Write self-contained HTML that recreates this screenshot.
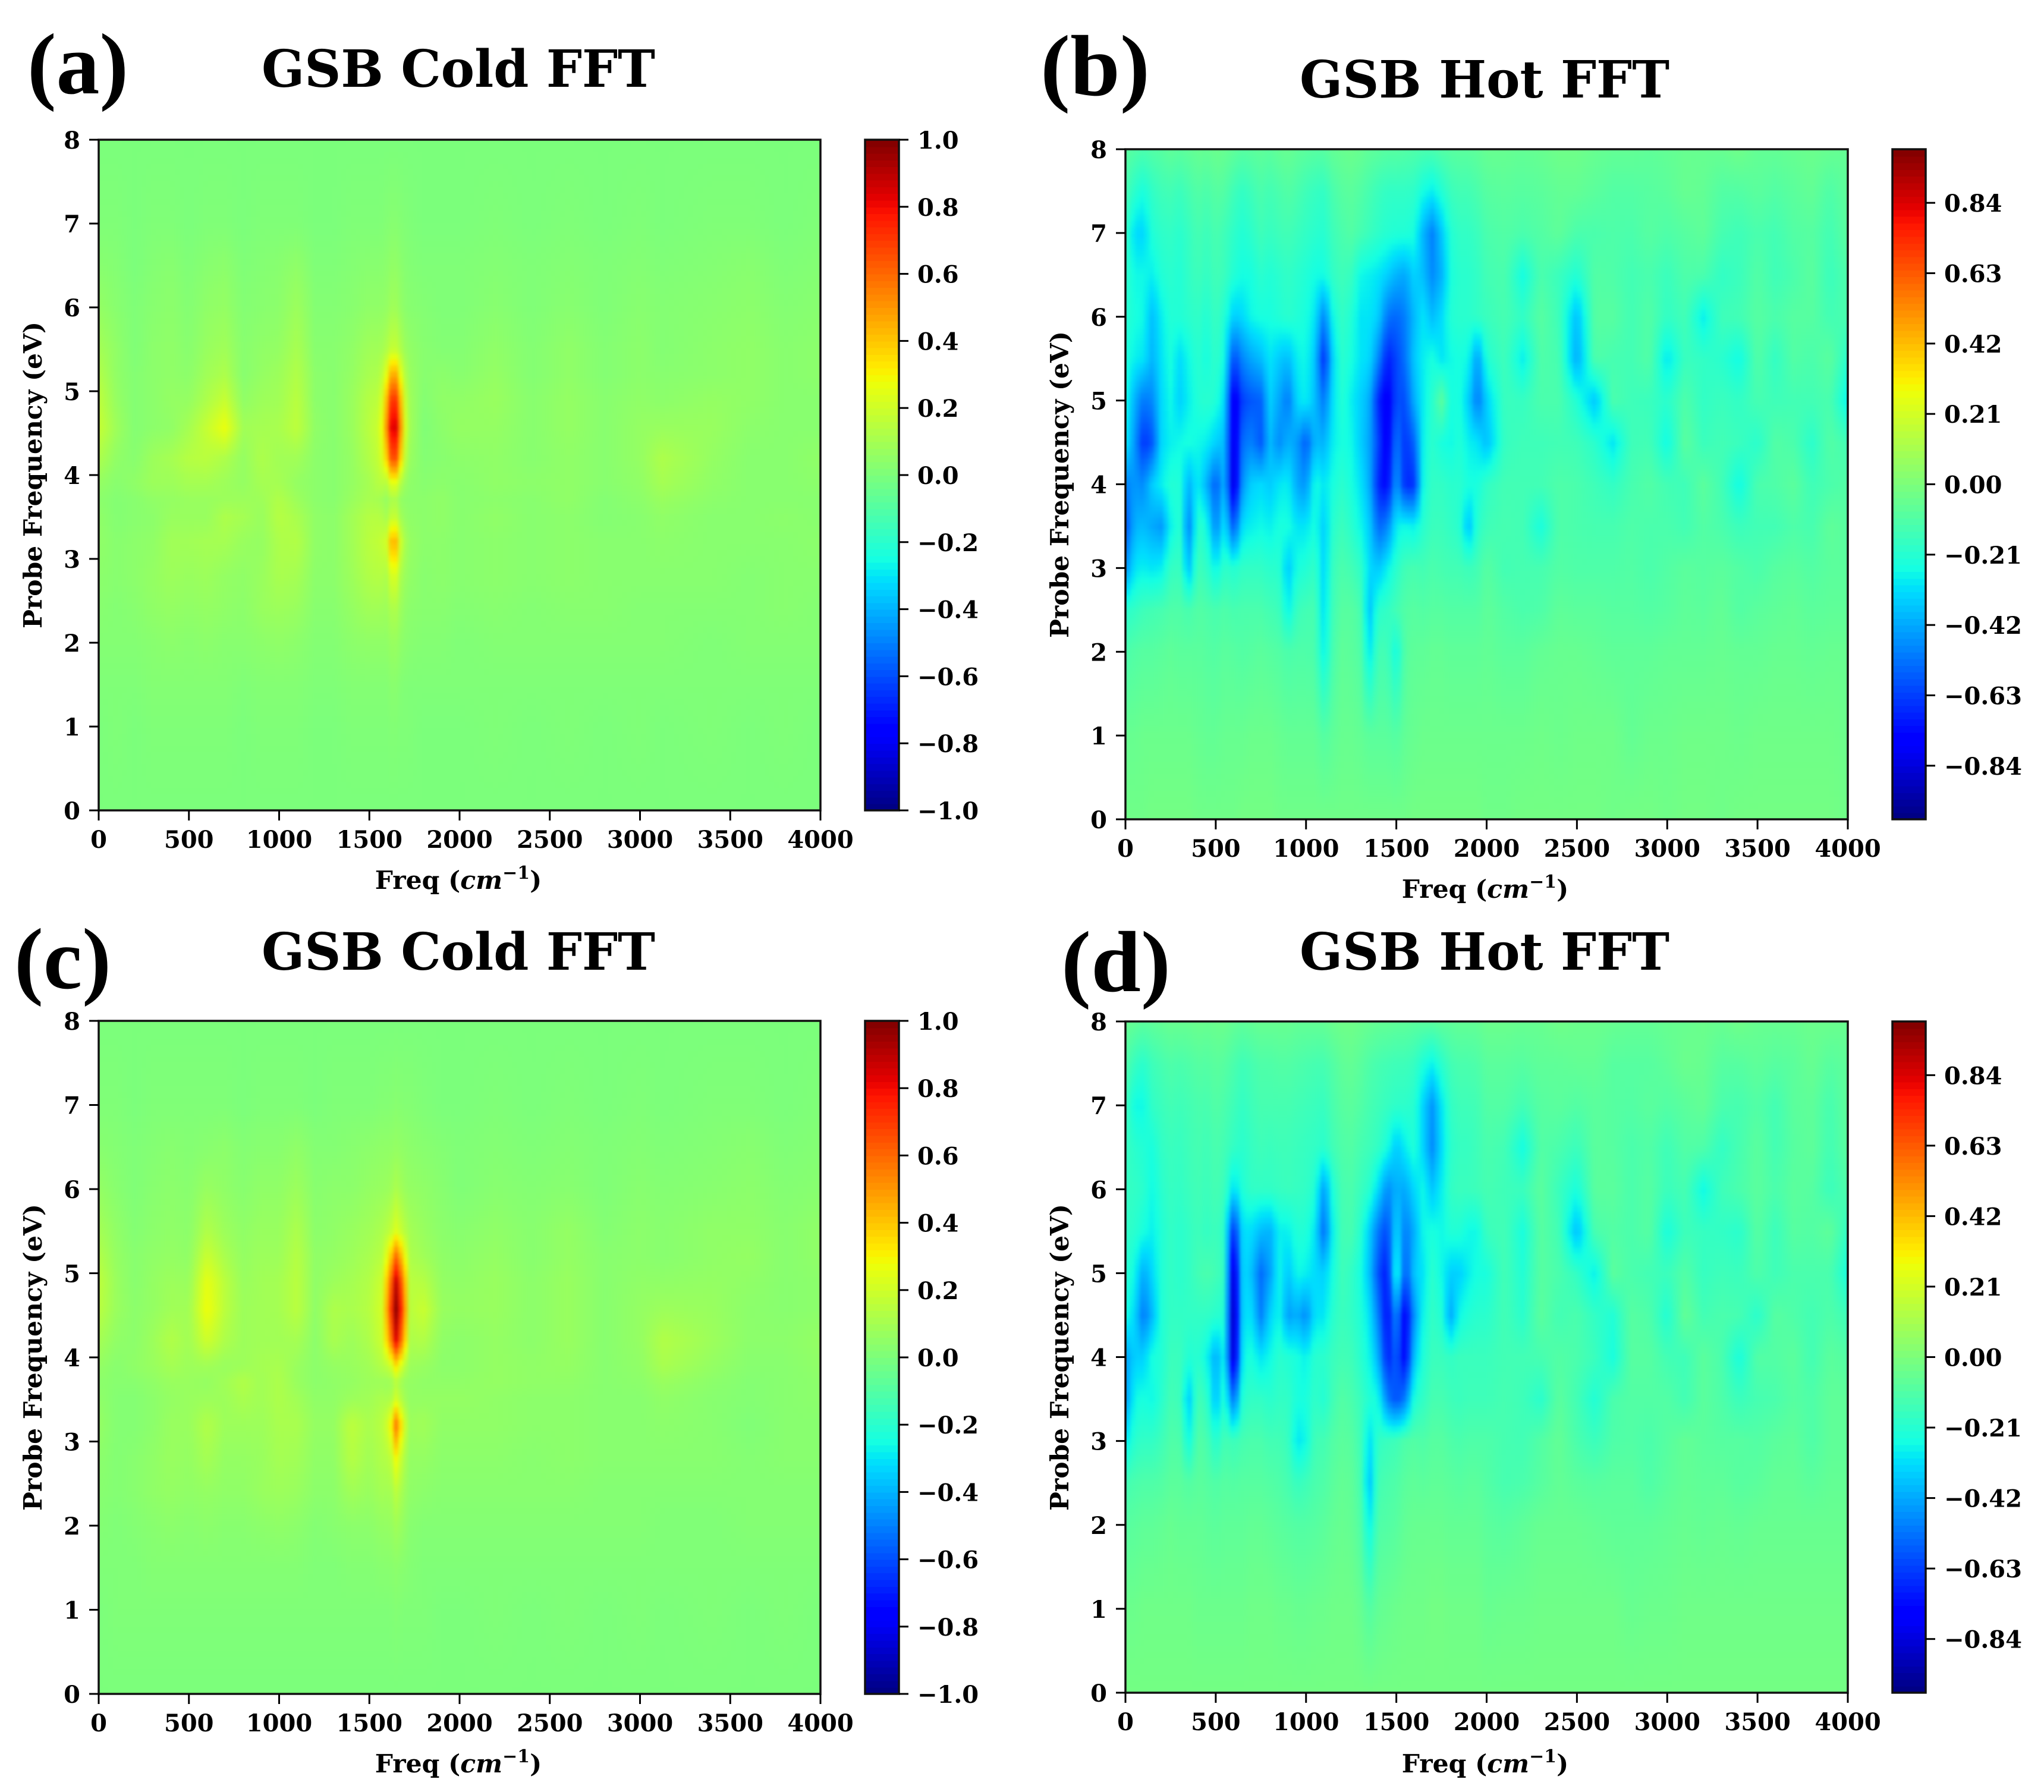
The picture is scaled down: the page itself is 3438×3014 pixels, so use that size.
<!DOCTYPE html>
<html lang="en">
<head>
<meta charset="utf-8">
<title>GSB Cold and Hot FFT maps</title>
<style>
html,body{margin:0;padding:0;background:#fff;}
svg{display:block;}
text{font-family:"DejaVu Serif",serif;font-weight:700;fill:#000;}
.panel-letter{font-family:"Liberation Serif",serif;font-weight:700;}
</style>
</head>
<body>
<svg id="figure" xmlns="http://www.w3.org/2000/svg" width="3438" height="3014" viewBox="0 0 3438 3014">
  <rect x="0" y="0" width="3438" height="3014" fill="#fff"/>
  <defs>
    <filter id="soften" filterUnits="userSpaceOnUse" x="0" y="0" width="3438" height="3014" color-interpolation-filters="sRGB"><feGaussianBlur stdDeviation="3"/></filter>
  </defs>

  <text class="panel-letter" x="46" y="157" font-size="146" textLength="170" lengthAdjust="spacingAndGlyphs">(a)</text>
  <text class="panel-letter" x="1750" y="160" font-size="146" textLength="184" lengthAdjust="spacingAndGlyphs">(b)</text>
  <text class="panel-letter" x="24" y="1662" font-size="146" textLength="163" lengthAdjust="spacingAndGlyphs">(c)</text>
  <text class="panel-letter" x="1785" y="1667" font-size="146" textLength="184" lengthAdjust="spacingAndGlyphs">(d)</text>

  <text x="440" y="146" font-size="86" textLength="662" lengthAdjust="spacingAndGlyphs">GSB Cold FFT</text>
  <text x="2186" y="164" font-size="86" textLength="622" lengthAdjust="spacingAndGlyphs">GSB Hot FFT</text>
  <text x="440" y="1631" font-size="86" textLength="662" lengthAdjust="spacingAndGlyphs">GSB Cold FFT</text>
  <text x="2186" y="1631" font-size="86" textLength="622" lengthAdjust="spacingAndGlyphs">GSB Hot FFT</text>

  <text x="771" y="1495" font-size="42.5" text-anchor="middle">Freq (<tspan font-style="italic">cm</tspan><tspan font-size="30" dy="-17">−1</tspan><tspan dy="17">)</tspan></text>
  <text x="2498" y="1510" font-size="42.5" text-anchor="middle">Freq (<tspan font-style="italic">cm</tspan><tspan font-size="30" dy="-17">−1</tspan><tspan dy="17">)</tspan></text>
  <text x="771" y="2981" font-size="42.5" text-anchor="middle">Freq (<tspan font-style="italic">cm</tspan><tspan font-size="30" dy="-17">−1</tspan><tspan dy="17">)</tspan></text>
  <text x="2498" y="2981" font-size="42.5" text-anchor="middle">Freq (<tspan font-style="italic">cm</tspan><tspan font-size="30" dy="-17">−1</tspan><tspan dy="17">)</tspan></text>

  <text transform="translate(70,799) rotate(-90)" font-size="42.5" text-anchor="middle" textLength="516" lengthAdjust="spacingAndGlyphs">Probe Frequency (eV)</text>
  <text transform="translate(1797,815) rotate(-90)" font-size="42.5" text-anchor="middle" textLength="516" lengthAdjust="spacingAndGlyphs">Probe Frequency (eV)</text>
  <text transform="translate(70,2283) rotate(-90)" font-size="42.5" text-anchor="middle" textLength="516" lengthAdjust="spacingAndGlyphs">Probe Frequency (eV)</text>
  <text transform="translate(1797,2283) rotate(-90)" font-size="42.5" text-anchor="middle" textLength="516" lengthAdjust="spacingAndGlyphs">Probe Frequency (eV)</text>
</svg>

<script>
// Tick labels
const freqTicks = [0, 500, 1000, 1500, 2000, 2500, 3000, 3500, 4000];
const evTicks = [0, 1, 2, 3, 4, 5, 6, 7, 8];
const coldBarTicks = [-1.0, -0.8, -0.6, -0.4, -0.2, 0.0, 0.2, 0.4, 0.6, 0.8, 1.0];
const hotBarTicks = [-0.84, -0.63, -0.42, -0.21, 0.00, 0.21, 0.42, 0.63, 0.84];
const coldBarRange = [-1, 1];
const hotBarRange = [-1, 1];

// Grid categories (heatmap samples, values below in hundredths)
const coldEv = [8, 7, 6.5, 6, 5.5, 5.2, 4.9, 4.57, 4.2, 3.9, 3.7, 3.5, 3.2, 2.8, 2.4, 2, 1.5, 1, 0];
const coldFreqA = [0,100,200,300,400,500,600,700,800,900,1000,1100,1200,1300,1400,1500,1560,1600,1635,1670,1710,1800,1900,2000,2200,2400,2600,2800,3000,3120,3400,3600,3800,4000];
const coldFreqC = [0,100,200,300,400,500,600,700,800,900,1000,1100,1200,1300,1400,1500,1575,1615,1650,1685,1725,1800,1900,2000,2200,2400,2600,2800,3000,3130,3400,3600,3800,4000];
const hotEv = [8, 7.5, 7, 6.5, 6, 5.5, 5, 4.5, 4, 3.5, 3, 2.5, 2, 1, 0];
const hotFreq = [0,50,100,150,200,250,300,350,400,450,500,550,600,650,700,750,800,850,900,950,1000,1050,1100,1150,1200,1250,1300,1350,1400,1450,1500,1550,1600,1650,1700,1750,1800,1850,1900,1950,2000,2100,2200,2300,2400,2500,2600,2700,2800,2900,3000,3100,3200,3300,3400,3500,3600,3700,3800,3900,4000];

const coldValuesA = [
[0,0,0,0,0,0,0,0,0,0, 0,0,0,0,0,0, 0,0,0,0,0, 0,0, 0,0,0,0,0,0,0,0,0,0,0],
[1,1,0,1,1,0,1,1,0,1, 1,1,0,0,1,1, 1,2,3,2,1, 0,0, 0,1,0,1,0,1,0,1,1,0,1],
[3,2,0,2,3,1,3,4,1,2, 3,5,1,1,2,3, 3,4,6,4,2, 1,1, 1,2,1,2,1,2,1,2,3,1,2],
[6,3,1,3,4,2,5,6,2,3, 4,8,2,2,3,5, 5,6,10,6,3, 2,1, 1,3,1,3,1,3,2,3,4,2,3],
[10,5,1,4,5,3,7,9,3,5, 6,11,3,3,5,9, 9,13,20,13,6, 3,2, 2,5,2,5,2,4,2,4,5,3,4],
[13,5,2,4,5,4,9,12,3,6, 8,13,4,3,6,11, 12,28,55,28,8, 3,4, 3,6,2,5,2,4,3,4,5,3,4],
[16,6,2,4,6,6,12,18,5,8, 9,15,4,3,7,14, 16,45,85,45,10, 2,5, 5,7,3,6,3,5,4,6,5,3,3],
[18,8,2,4,5,10,18,27,9,10, 11,16,5,3,7,15, 20,55,100,55,11, 1,4, 6,6,3,6,3,6,7,7,4,3,3],
[12,5,3,8,10,14,15,12,6,12, 9,9,4,3,6,13, 18,40,80,40,8, 2,3, 4,5,3,5,3,6,12,6,3,3,5],
[6,3,5,8,8,10,10,8,6,10, 10,6,4,3,6,10, 15,14,30,14,5, 3,4, 3,5,4,5,3,5,10,5,3,3,4],
[4,2,3,5,6,7,7,8,8,8, 13,8,4,3,7,11, 10,6,14,6,4, 4,5, 3,4,3,5,2,4,7,4,3,3,3],
[5,2,3,4,7,7,7,12,10,7, 14,11,5,4,9,14, 14,10,22,10,5, 4,5, 3,5,3,4,2,3,5,3,3,4,3],
[5,3,4,5,9,9,10,10,7,6, 12,13,5,4,9,15, 17,22,55,22,7, 4,4, 3,4,3,4,3,3,4,3,3,3,4],
[4,3,4,6,8,7,8,6,5,7, 11,10,4,4,8,13, 14,12,28,12,6, 3,4, 3,4,3,4,3,3,3,3,2,3,3],
[3,2,3,5,6,5,6,5,4,7, 8,7,3,3,6,9, 9,8,14,8,4, 3,3, 2,3,2,3,3,2,2,2,2,3,2],
[2,2,2,3,4,3,4,3,3,4, 5,4,2,2,4,5, 5,5,8,5,3, 2,2, 1,2,2,2,2,2,2,1,2,2,2],
[1,1,1,2,2,2,2,2,1,2, 2,2,1,1,2,2, 2,2,4,2,1, 1,1, 1,1,1,1,1,1,1,1,1,1,1],
[0,1,0,1,1,1,1,1,0,1, 1,1,0,0,1,1, 1,1,2,1,1, 0,0, 0,1,0,1,0,1,0,1,0,1,0],
[0,0,0,0,0,0,0,0,0,0, 0,0,0,0,0,0, 0,0,0,0,0, 0,0, 0,0,0,0,0,0,0,0,0,0,0]
];

const coldValuesC = [
[0,0,0,0,0,0,0,0,0,0, 0,0,0,0,0,0, 0,0,0,0,0, 0,0, 0,0,0,0,0,0,0,0,0,0,0],
[1,1,0,1,1,1,1,1,0,1, 1,1,0,1,1,1, 2,2,3,2,2, 1,0, 0,1,0,1,0,1,0,1,1,0,1],
[3,2,1,2,3,2,3,4,2,3, 3,5,2,2,3,4, 5,5,6,5,4, 3,2, 1,2,1,2,1,2,1,2,3,1,2],
[6,3,1,3,4,3,7,5,3,5, 5,8,3,4,4,6, 7,8,12,8,6, 5,3, 1,3,2,3,1,3,2,3,4,2,3],
[10,5,2,4,5,4,13,8,5,7, 7,12,4,5,7,9, 12,16,24,16,10, 7,4, 3,5,3,6,2,4,3,5,5,3,5],
[13,6,3,5,6,5,19,11,6,8, 8,14,5,6,8,11, 15,35,62,35,12, 9,5, 4,6,3,6,3,4,3,5,6,3,5],
[16,7,3,6,8,7,26,15,7,9, 10,15,5,8,10,13, 20,55,90,55,15, 14,6, 5,7,4,7,3,5,5,6,5,3,4],
[15,7,4,6,9,9,28,15,8,9, 10,15,5,12,11,14, 22,65,100,65,15, 19,7, 6,7,4,7,3,6,8,7,4,3,4],
[10,5,4,8,13,9,20,12,8,9, 9,10,4,11,8,12, 20,50,85,50,12, 13,5, 4,6,4,7,3,6,13,8,4,4,6],
[6,3,5,7,10,8,9,7,8,10, 11,7,4,6,7,9, 14,18,35,18,8, 7,4, 4,6,5,6,3,5,11,6,3,3,5],
[4,3,3,5,7,7,6,9,13,9, 12,7,4,5,6,8, 8,7,14,7,6, 5,5, 5,6,5,5,3,4,7,4,2,3,4],
[5,2,2,4,6,7,8,8,11,9, 12,9,5,5,8,9, 12,11,22,11,6, 6,6, 6,5,4,4,3,3,5,3,2,3,4],
[6,2,2,4,7,7,13,8,8,8, 11,11,6,6,16,11, 15,25,60,25,8, 9,5, 5,5,4,4,3,3,4,3,1,3,3],
[4,2,3,5,7,6,10,6,6,7, 10,9,5,5,14,9, 13,14,30,14,6, 6,4, 4,4,3,4,3,3,3,3,2,3,3],
[3,2,3,5,6,5,6,5,5,7, 8,7,4,4,9,7, 10,9,16,9,5, 4,3, 3,3,3,3,2,2,2,2,2,2,2],
[2,1,2,3,4,3,4,3,3,4, 5,4,2,3,4,4, 6,6,9,6,3, 2,2, 2,2,2,2,2,2,1,1,2,2,2],
[1,1,1,2,2,2,2,2,2,2, 2,2,1,1,2,2, 3,3,4,3,2, 1,1, 1,1,1,1,1,1,1,1,1,1,1],
[0,1,1,1,1,1,1,1,1,1, 1,1,1,1,1,1, 1,1,2,1,1, 1,0, 0,1,0,1,0,1,0,1,0,1,0],
[0,0,0,0,0,0,0,0,0,0, 0,0,0,0,0,0, 0,0,0,0,0, 0,0, 0,0,0,0,0,0,0,0,0,0,0]
];

const hotValuesB = [
[-8,-10,-12,-10,-9,-7,-8,-7,-5,-6, -4,-5,-7,-9,-8,-7,-8,-6,-5,-7, -8,-9,-9,-6,-5,-4,-5,-7,-8,-9, -9,-10,-11,-12,-12,-10,-9,-8,-8,-7, -5,-5,-6,-5,-3,-3,-5,-6,-6,-7,-6,-5,-5,-5,-3,-6,-6,-5,-4,-5,-6],
[-12,-20,-24,-18,-15,-14,-16,-13,-10,-12, -9,-10,-15,-18,-15,-12,-14,-12,-10,-12, -15,-17,-18,-12,-9,-8,-10,-13,-16,-18, -18,-18,-19,-25,-28,-22,-16,-14,-14,-12, -9,-8,-9,-8,-6,-6,-8,-10,-10,-9,-8,-5,-6,-10,-10,-8,-10,-8,-6,-11,-7],
[-16,-32,-33,-22,-19,-18,-20,-17,-13,-16, -12,-15,-19,-22,-19,-15,-17,-15,-14,-16, -18,-20,-21,-15,-12,-10,-13,-16,-19,-21, -22,-22,-24,-40,-50,-36,-22,-18,-18,-16, -12,-10,-12,-10,-7,-12,-12,-11,-12,-9,-11,-9,-7,-13,-15,-12,-14,-10,-9,-14,-8],
[-18,-26,-26,-28,-22,-20,-22,-18,-15,-18, -14,-16,-22,-25,-24,-20,-22,-20,-18,-20, -22,-25,-25,-18,-15,-17,-26,-28,-30,-34, -40,-42,-33,-38,-48,-40,-24,-20,-20,-18, -14,-12,-25,-12,-16,-22,-10,-11,-14,-12,-16,-11,-12,-18,-16,-10,-15,-12,-8,-16,-11],
[-20,-24,-26,-38,-28,-22,-22,-20,-18,-22, -16,-22,-35,-32,-26,-24,-24,-22,-20,-22, -24,-30,-50,-25,-18,-22,-30,-30,-34,-52, -55,-50,-38,-30,-38,-32,-22,-20,-20,-18, -16,-13,-18,-9,-15,-38,-9,-9,-14,-10,-18,-14,-28,-15,-14,-9,-12,-9,-9,-14,-12],
[-22,-28,-30,-40,-30,-24,-32,-26,-20,-25, -18,-26,-62,-48,-42,-38,-30,-35,-38,-28, -26,-36,-68,-32,-20,-24,-30,-32,-48,-70, -62,-52,-35,-28,-24,-30,-26,-24,-26,-45, -22,-15,-28,-11,-13,-42,-11,-13,-14,-10,-30,-16,-18,-20,-26,-10,-18,-10,-12,-8,-20],
[-24,-40,-52,-48,-32,-26,-34,-28,-22,-20, -22,-32,-84,-62,-58,-56,-34,-42,-52,-32, -28,-38,-52,-30,-22,-28,-34,-40,-68,-80, -60,-60,-40,-28,-20,-8,-24,-24,-34,-52, -34,-16,-17,-12,-12,-22,-36,-12,-15,-16,-20,-11,-18,-16,-18,-13,-15,-14,-14,-12,-28],
[-28,-45,-66,-58,-32,-28,-26,-24,-26,-28, -34,-38,-86,-52,-50,-58,-38,-48,-40,-44, -58,-38,-40,-28,-24,-26,-34,-42,-62,-80, -50,-66,-55,-26,-20,-24,-26,-22,-28,-30, -38,-17,-15,-15,-14,-15,-20,-30,-15,-14,-26,-8,-16,-14,-16,-20,-10,-12,-20,-10,-14],
[-50,-45,-48,-34,-28,-22,-22,-40,-28,-40, -58,-38,-88,-44,-34,-32,-35,-30,-28,-42, -46,-24,-30,-24,-20,-24,-30,-40,-68,-76, -42,-68,-65,-24,-18,-18,-20,-20,-24,-24, -18,-14,-14,-14,-11,-12,-15,-18,-13,-10,-14,-15,-8,-14,-26,-12,-11,-8,-15,-12,-10],
[-60,-40,-38,-42,-45,-28,-20,-50,-20,-24, -50,-28,-60,-30,-28,-26,-28,-24,-24,-30, -30,-24,-35,-20,-16,-20,-26,-34,-55,-50, -28,-26,-28,-20,-16,-16,-18,-20,-38,-20, -15,-13,-14,-24,-11,-12,-13,-13,-11,-12,-12,-14,-10,-12,-16,-14,-14,-11,-13,-7,-9],
[-48,-30,-28,-30,-28,-18,-16,-38,-15,-18, -28,-18,-22,-18,-18,-18,-20,-20,-36,-24, -22,-18,-34,-16,-12,-14,-18,-32,-36,-28, -20,-14,-13,-14,-12,-13,-14,-14,-16,-14, -9,-14,-13,-13,-10,-11,-11,-11,-10,-12,-10,-8,-9,-8,-10,-12,-9,-8,-10,-8,-8],
[-20,-18,-15,-14,-13,-11,-11,-13,-10,-11, -13,-11,-13,-12,-12,-12,-14,-15,-28,-16, -14,-13,-32,-14,-9,-9,-12,-38,-20,-18, -14,-10,-9,-10,-9,-9,-10,-10,-10,-10, -7,-10,-12,-11,-7,-8,-8,-9,-9,-10,-9,-7,-8,-6,-10,-8,-7,-6,-8,-7,-7],
[-12,-10,-9,-9,-8,-7,-8,-8,-8,-9, -10,-8,-9,-10,-9,-8,-9,-10,-12,-11, -11,-12,-28,-12,-7,-8,-10,-30,-14,-14, -26,-9,-7,-7,-6,-6,-7,-7,-7,-7, -6,-8,-8,-6,-5,-5,-6,-7,-7,-7,-6,-6,-6,-5,-6,-6,-5,-5,-6,-5,-5],
[-5,-5,-4,-4,-4,-4,-4,-4,-5,-6, -6,-5,-5,-5,-4,-4,-4,-5,-6,-6, -6,-6,-10,-7,-5,-5,-6,-8,-8,-8, -10,-6,-5,-4,-4,-4,-4,-4,-4,-4, -4,-4,-4,-3,-4,-3,-3,-3,-6,-4,-4,-3,-3,-3,-4,-3,-3,-3,-3,-3,-4],
[-3,-3,-3,-2,-2,-2,-2,-2,-3,-3, -3,-3,-3,-2,-2,-2,-2,-3,-3,-3, -3,-3,-3,-3,-3,-3,-3,-3,-3,-3, -3,-3,-2,-2,-2,-2,-2,-2,-2,-2, -3,-3,-2,-2,-2,-2,-2,-3,-2,-2,-3,-2,-2,-3,-2,-2,-2,-2,-2,-2,-3]
];

const hotValuesD = [
[-5,-6,-8,-7,-6,-5,-5,-5,-4,-5, -4,-4,-6,-7,-6,-5,-5,-5,-5,-6, -6,-6,-6,-4,-3,-3,-4,-5,-6,-6, -7,-7,-8,-8,-8,-7,-7,-6,-6,-6, -4,-4,-5,-5,-3,-4,-4,-5,-6,-6,-5,-5,-4,-5,-3,-5,-5,-5,-4,-4,-5],
[-10,-17,-20,-15,-13,-11,-12,-11,-9,-10, -8,-9,-12,-15,-13,-11,-11,-10,-10,-11, -12,-13,-13,-10,-7,-6,-8,-11,-13,-14, -15,-15,-17,-23,-27,-20,-14,-12,-12,-11, -8,-8,-9,-7,-7,-6,-6,-9,-9,-9,-7,-4,-5,-9,-9,-7,-9,-8,-5,-9,-7],
[-14,-26,-26,-18,-16,-14,-15,-14,-12,-13, -10,-12,-15,-18,-15,-13,-13,-13,-13,-14, -15,-16,-17,-12,-9,-8,-10,-13,-15,-17, -19,-19,-21,-34,-46,-30,-18,-15,-15,-14, -10,-10,-14,-9,-8,-10,-8,-9,-10,-8,-10,-8,-6,-12,-13,-10,-14,-8,-7,-13,-7],
[-16,-20,-22,-24,-18,-16,-17,-15,-13,-15, -12,-14,-18,-20,-17,-15,-16,-15,-15,-16, -17,-18,-20,-14,-11,-10,-13,-15,-18,-24, -36,-28,-22,-34,-48,-32,-20,-17,-17,-15, -12,-14,-25,-10,-12,-16,-8,-9,-12,-10,-15,-10,-11,-18,-13,-8,-14,-9,-7,-14,-8],
[-17,-18,-20,-26,-20,-17,-18,-16,-14,-16, -13,-16,-32,-22,-18,-18,-18,-17,-16,-17, -18,-22,-45,-22,-13,-12,-16,-20,-32,-48, -40,-42,-32,-26,-36,-28,-18,-16,-16,-15, -13,-15,-16,-8,-16,-24,-8,-8,-12,-9,-16,-13,-26,-15,-12,-8,-12,-8,-9,-16,-11],
[-18,-20,-24,-28,-22,-18,-20,-18,-15,-18, -15,-20,-70,-30,-32,-38,-40,-28,-28,-22, -22,-30,-55,-26,-14,-13,-20,-34,-52,-62, -30,-52,-40,-26,-24,-26,-22,-22,-26,-26, -16,-14,-24,-9,-14,-38,-12,-10,-12,-9,-24,-15,-17,-18,-20,-9,-16,-9,-10,-7,-18],
[-20,-26,-42,-32,-22,-18,-20,-18,-14,-12, -14,-18,-92,-30,-38,-54,-44,-26,-36,-26, -28,-32,-34,-24,-15,-18,-24,-36,-60,-72, -18,-60,-35,-30,-20,-26,-34,-34,-28,-24, -24,-14,-22,-9,-12,-18,-28,-8,-12,-14,-16,-10,-17,-15,-16,-11,-15,-12,-12,-12,-24],
[-24,-32,-52,-38,-22,-18,-18,-18,-18,-18, -20,-22,-96,-30,-32,-50,-34,-26,-44,-40, -48,-30,-30,-20,-16,-18,-22,-30,-50,-75, -45,-80,-45,-26,-18,-22,-42,-26,-22,-20, -20,-14,-20,-8,-14,-12,-18,-22,-9,-11,-22,-6,-14,-12,-13,-20,-9,-11,-14,-11,-15],
[-44,-34,-34,-24,-22,-16,-16,-22,-20,-26, -42,-26,-92,-26,-24,-30,-26,-20,-22,-24, -28,-20,-20,-16,-14,-15,-20,-26,-40,-70, -55,-78,-35,-22,-16,-16,-18,-16,-16,-16, -16,-14,-14,-13,-10,-12,-16,-24,-9,-9,-14,-15,-8,-12,-24,-10,-10,-8,-14,-8,-10],
[-46,-26,-24,-26,-20,-14,-15,-36,-14,-18, -38,-20,-55,-20,-18,-18,-20,-18,-18,-24, -24,-18,-22,-14,-10,-12,-16,-22,-25,-50, -60,-50,-22,-18,-13,-13,-15,-16,-15,-15, -15,-13,-15,-20,-8,-14,-22,-12,-10,-10,-10,-14,-8,-11,-16,-13,-12,-9,-11,-7,-7],
[-30,-20,-18,-18,-15,-11,-11,-26,-10,-12, -22,-13,-16,-13,-12,-12,-14,-14,-16,-30, -26,-14,-14,-10,-8,-9,-14,-32,-18,-16, -15,-11,-10,-11,-9,-9,-11,-12,-11,-11, -11,-13,-14,-10,-6,-12,-16,-11,-10,-12,-9,-6,-8,-9,-9,-10,-8,-7,-11,-7,-7],
[-14,-12,-11,-11,-10,-8,-8,-10,-8,-9, -11,-9,-10,-9,-9,-9,-10,-11,-13,-17, -15,-12,-11,-8,-6,-7,-12,-38,-14,-12, -11,-8,-7,-8,-7,-7,-8,-9,-8,-8, -10,-13,-12,-9,-6,-8,-9,-8,-8,-11,-8,-6,-7,-7,-9,-8,-6,-6,-8,-6,-6],
[-9,-8,-7,-7,-6,-5,-6,-6,-6,-7, -8,-7,-7,-7,-6,-6,-7,-8,-9,-10, -10,-9,-8,-6,-5,-6,-10,-28,-11,-10, -9,-6,-5,-5,-5,-5,-6,-6,-6,-6, -8,-9,-7,-5,-5,-5,-6,-7,-7,-7,-6,-5,-6,-5,-6,-5,-5,-5,-5,-5,-5],
[-4,-4,-3,-3,-3,-3,-3,-3,-4,-4, -4,-4,-4,-4,-3,-3,-3,-4,-4,-5, -5,-4,-4,-3,-3,-3,-5,-10,-6,-5, -4,-3,-3,-3,-2,-2,-3,-3,-3,-3, -5,-4,-4,-3,-3,-3,-3,-3,-5,-4,-4,-3,-3,-3,-3,-3,-3,-3,-3,-3,-3],
[-2,-2,-2,-2,-2,-2,-2,-2,-2,-2, -2,-2,-2,-2,-2,-2,-2,-2,-2,-2, -2,-2,-2,-2,-2,-2,-2,-2,-2,-2, -2,-2,-2,-2,-2,-2,-2,-2,-2,-2, -2,-2,-2,-2,-2,-2,-2,-2,-2,-2,-2,-2,-2,-2,-2,-2,-2,-2,-2,-2,-2]
];

const SVGNS = 'http://www.w3.org/2000/svg';
const figure = document.getElementById('figure');

function piecewise(points, t) {
  for (let i = 0; i < points.length - 1; i++) {
    const a = points[i], b = points[i + 1];
    if (t <= b[0]) return a[1] + (b[1] - a[1]) * (t - a[0]) / (b[0] - a[0]);
  }
  return points[points.length - 1][1];
}
const jetR = [[0,0],[.35,0],[.66,1],[.89,1],[1,.5]];
const jetG = [[0,0],[.125,0],[.375,1],[.64,1],[.91,0],[1,0]];
const jetB = [[0,.5],[.11,1],[.34,1],[.65,0],[1,0]];
function jet(v) {
  const t = Math.max(0, Math.min(1, (v + 1) / 2));
  const c = function (p) { return Math.round(255 * piecewise(p, t)); };
  return 'rgb(' + c(jetR) + ',' + c(jetG) + ',' + c(jetB) + ')';
}

function bracket(arr, v) {
  for (let i = 0; i < arr.length - 1; i++) {
    if ((v - arr[i]) * (v - arr[i + 1]) <= 0) {
      const d = arr[i + 1] - arr[i];
      return [i, d === 0 ? 0 : (v - arr[i]) / d];
    }
  }
  return [arr.length - 2, 1];
}
function sample(values, freqs, evs, f, ev) {
  const [i, u] = bracket(freqs, f);
  const [j, w] = bracket(evs, ev);
  const r0 = values[j], r1 = values[j + 1];
  const top = (r0[i] ?? 0) * (1 - u) + (r0[i + 1] ?? 0) * u;
  const bot = (r1[i] ?? 0) * (1 - u) + (r1[i + 1] ?? 0) * u;
  return (top * (1 - w) + bot * w) / 100;
}

function addText(parent, x, y, str, anchor) {
  const t = document.createElementNS(SVGNS, 'text');
  t.setAttribute('x', x);
  t.setAttribute('y', y);
  t.setAttribute('font-size', 40);
  t.setAttribute('text-anchor', anchor);
  t.textContent = str;
  parent.appendChild(t);
  return t;
}
function addLine(parent, x1, y1, x2, y2, w) {
  const l = document.createElementNS(SVGNS, 'line');
  l.setAttribute('x1', x1);
  l.setAttribute('y1', y1);
  l.setAttribute('x2', x2);
  l.setAttribute('y2', y2);
  l.setAttribute('stroke', '#000');
  l.setAttribute('stroke-width', w);
  parent.appendChild(l);
  return l;
}
function fmtSigned(v, digits) {
  const s = Math.abs(v).toFixed(digits);
  return v < 0 ? '\u2212' + s : s;
}

function drawPanel(id, box, values, freqs, evs, barRange, barTicks, barDigits) {
  const xScale = function (f) { return box.l + f / 4000 * (box.r - box.l); };
  const yScale = function (ev) { return box.b - ev / 8 * (box.b - box.t); };
  const xInv = function (x) { return (x - box.l) / (box.r - box.l) * 4000; };
  const yInv = function (y) { return (box.b - y) / (box.b - box.t) * 8; };

  const panel = document.createElementNS(SVGNS, 'g');
  
  
  figure.appendChild(panel);

  const clip = document.createElementNS(SVGNS, 'clipPath');
  clip.setAttribute('id', 'clip-' + id);
  const clipRect = document.createElementNS(SVGNS, 'rect');
  clipRect.setAttribute('x', box.l);
  clipRect.setAttribute('y', box.t);
  clipRect.setAttribute('width', box.r - box.l);
  clipRect.setAttribute('height', box.b - box.t);
  clip.appendChild(clipRect);
  panel.appendChild(clip);

  const clipped = document.createElementNS(SVGNS, 'g');
  clipped.setAttribute('clip-path', 'url(#clip-' + id + ')');
  
  
  panel.appendChild(clipped);
  const cells = document.createElementNS(SVGNS, 'g');
  cells.setAttribute('filter', 'url(#soften)');
  cells.setAttribute('shape-rendering', 'crispEdges');
  clipped.appendChild(cells);

  const cw = 8, ch = 10;
  for (let y = box.t - 20; y < box.b + 20; y += ch) {
    const ev = Math.max(0, Math.min(8, yInv(y + ch / 2)));
    for (let x = box.l - 16; x < box.r + 16; x += cw) {
      const f = Math.max(0, Math.min(4000, xInv(x + cw / 2)));
      const cell = document.createElementNS(SVGNS, 'rect');
      
      
      cell.setAttribute('x', x);
      cell.setAttribute('y', y);
      cell.setAttribute('width', cw + 1);
      cell.setAttribute('height', ch + 1);
      cell.setAttribute('fill', jet(sample(values, freqs, evs, f, ev)));
      cells.appendChild(cell);
    }
  }

  const frame = document.createElementNS(SVGNS, 'rect');
  
  
  frame.setAttribute('x', box.l);
  frame.setAttribute('y', box.t);
  frame.setAttribute('width', box.r - box.l);
  frame.setAttribute('height', box.b - box.t);
  frame.setAttribute('fill', 'none');
  frame.setAttribute('stroke', '#111');
  frame.setAttribute('stroke-width', 3.5);
  panel.appendChild(frame);

  const xAxis = document.createElementNS(SVGNS, 'g');
  
  
  panel.appendChild(xAxis);
  freqTicks.forEach(function (f) {
    const tick = addLine(xAxis, xScale(f), box.b, xScale(f), box.b + 17, 3);
    
    
    const label = addText(xAxis, xScale(f), box.b + 63, String(f), 'middle');
    
    
  });

  const yAxis = document.createElementNS(SVGNS, 'g');
  
  
  panel.appendChild(yAxis);
  evTicks.forEach(function (ev) {
    const tick = addLine(yAxis, box.l - 16, yScale(ev), box.l, yScale(ev), 3);
    
    
    const label = addText(yAxis, box.l - 31, yScale(ev) + 15, String(ev), 'end');
    
    
  });

  const bar = document.createElementNS(SVGNS, 'g');
  
  
  bar.setAttribute('shape-rendering', 'crispEdges');
  panel.appendChild(bar);
  const barScale = function (v) { return box.b - (v - barRange[0]) / (barRange[1] - barRange[0]) * (box.b - box.t); };
  const levels = 100;
  for (let k = 0; k < levels; k++) {
    const v0 = barRange[0] + (barRange[1] - barRange[0]) * k / levels;
    const v1 = barRange[0] + (barRange[1] - barRange[0]) * (k + 1) / levels;
    const seg = document.createElementNS(SVGNS, 'rect');
    
    
    seg.setAttribute('x', box.cl);
    seg.setAttribute('y', barScale(v1));
    seg.setAttribute('width', box.cr - box.cl);
    seg.setAttribute('height', barScale(v0) - barScale(v1) + 1);
    seg.setAttribute('fill', jet((v0 + v1) / 2));
    bar.appendChild(seg);
  }
  const barFrame = document.createElementNS(SVGNS, 'rect');
  
  
  barFrame.setAttribute('x', box.cl);
  barFrame.setAttribute('y', box.t);
  barFrame.setAttribute('width', box.cr - box.cl);
  barFrame.setAttribute('height', box.b - box.t);
  barFrame.setAttribute('fill', 'none');
  barFrame.setAttribute('stroke', '#111');
  barFrame.setAttribute('stroke-width', 3.5);
  panel.appendChild(barFrame);
  barTicks.forEach(function (v) {
    const tick = addLine(panel, box.cr, barScale(v), box.cr + 16, barScale(v), 3);
    
    
    const label = addText(panel, box.cr + 31, barScale(v) + 15, fmtSigned(v, barDigits), 'start');
    
    
  });
}

drawPanel('a', {l:166, r:1380, t:235, b:1363, cl:1455, cr:1512}, coldValuesA, coldFreqA, coldEv, coldBarRange, coldBarTicks, 1);
drawPanel('b', {l:1893, r:3108, t:251, b:1378, cl:3183, cr:3239}, hotValuesB, hotFreq, hotEv, hotBarRange, hotBarTicks, 2);
drawPanel('c', {l:166, r:1380, t:1717, b:2849, cl:1455, cr:1512}, coldValuesC, coldFreqC, coldEv, coldBarRange, coldBarTicks, 1);
drawPanel('d', {l:1893, r:3108, t:1718, b:2847, cl:3183, cr:3239}, hotValuesD, hotFreq, hotEv, hotBarRange, hotBarTicks, 2);
</script>
</body>
</html>
